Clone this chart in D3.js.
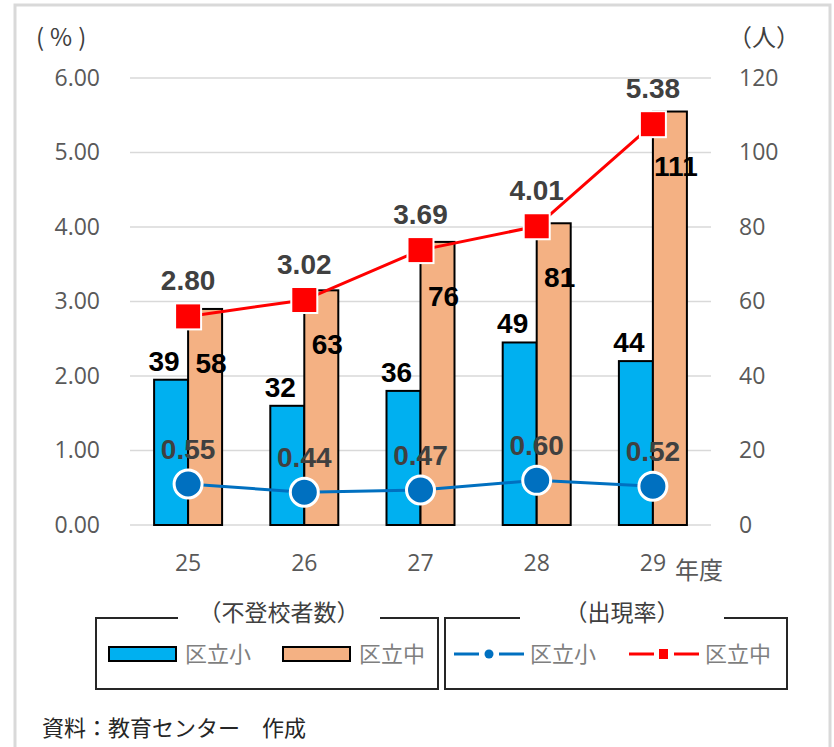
<!DOCTYPE html>
<html>
<head>
<meta charset="utf-8">
<script src="https://cdn.jsdelivr.net/npm/d3@7"></script>
<style>
  body { margin: 0; background: #fff; }
  text { font-family: "Noto Sans CJK JP", "Noto Sans", sans-serif; }
</style>
</head>
<body>
<div id="chart"></div>
<script>
// data
var years = ["25", "26", "27", "28", "29"];
var countSho = [39, 32, 36, 49, 44];
var countChu = [58, 63, 76, 81, 111];
var rateSho = [0.55, 0.44, 0.47, 0.60, 0.52];
var rateChu = [2.80, 3.02, 3.69, 4.01, 5.38];
var rateTicks = [0, 1, 2, 3, 4, 5, 6];
var countTicks = [0, 20, 40, 60, 80, 100, 120];

var W = 834, H = 747;
var margin = {top: 78, right: 123, bottom: 222, left: 130},
  width = W - margin.left - margin.right,
  height = H - margin.top - margin.bottom;

var blue = "#00b0f0", orange = "#f4b183", lineBlue = "#0070c0", red = "#ff0000";
var tickColor = "#595959";

var svg = d3.select("#chart").append("svg")
  .attr("width", W).attr("height", H);

// outer frame
svg.append("rect")
  .attr("x", 15).attr("y", 5)
  .attr("width", 815).attr("height", 760)
  .attr("fill", "none").attr("stroke", "#d9d9d9").attr("stroke-width", 3);

var g = svg.append("g")
  .attr("transform", "translate(" + margin.left + "," + margin.top + ")");

var x = d3.scaleBand().domain(years).range([0, width]).padding(0);
var yL = d3.scaleLinear().domain([0, 6]).range([height, 0]);
var yR = d3.scaleLinear().domain([0, 120]).range([height, 0]);

// gridlines
g.selectAll(".grid").data(rateTicks).enter().append("line")
  .attr("x1", 0).attr("x2", width)
  .attr("y1", d => yL(d)).attr("y2", d => yL(d))
  .attr("stroke", "#d9d9d9").attr("stroke-width", 1.5);

// left axis
var axL = g.append("g")
  .call(d3.axisLeft(yL).tickValues(rateTicks).tickFormat(d3.format(".2f")).tickSize(0).tickPadding(30));
axL.select(".domain").remove();
axL.selectAll("text").attr("font-size", 23).attr("fill", tickColor)
  .style("font-family", "'Open Sans', sans-serif");

// right axis
var axR = g.append("g")
  .attr("transform", "translate(" + width + ",0)")
  .call(d3.axisRight(yR).tickValues(countTicks).tickSize(0).tickPadding(28));
axR.select(".domain").remove();
axR.selectAll("text").attr("font-size", 23).attr("fill", tickColor)
  .style("font-family", "'Open Sans', sans-serif");

// x axis
var axX = g.append("g")
  .attr("transform", "translate(0," + height + ")")
  .call(d3.axisBottom(x).tickSize(0).tickPadding(30));
axX.select(".domain").remove();
axX.selectAll("text").attr("font-size", 23).attr("fill", tickColor)
  .style("font-family", "'Open Sans', sans-serif");
axX.append("text")
  .attr("x", x("29") + x.bandwidth() / 2 + 22).attr("y", 54)
  .attr("text-anchor", "start").attr("font-size", 24).attr("fill", tickColor)
  .text("年度");

// unit labels
svg.append("text").attr("x", 36).attr("y", 46).attr("font-size", 24).attr("fill", "#404040")
  .attr("letter-spacing", 6).text("(%)");
svg.append("text").attr("x", 728).attr("y", 46).attr("font-size", 24).attr("fill", "#404040").text("（人）");

// bars
var bw = 34;
var bars = g.append("g");
bars.selectAll(".sho").data(countSho).enter().append("rect")
  .attr("x", (d, i) => x(years[i]) + x.bandwidth() / 2 - bw)
  .attr("y", d => yR(d))
  .attr("width", bw).attr("height", d => height - yR(d))
  .attr("fill", blue).attr("stroke", "#000").attr("stroke-width", 2);
bars.selectAll(".chu").data(countChu).enter().append("rect")
  .attr("x", (d, i) => x(years[i]) + x.bandwidth() / 2)
  .attr("y", d => yR(d))
  .attr("width", bw).attr("height", d => height - yR(d))
  .attr("fill", orange).attr("stroke", "#000").attr("stroke-width", 2);

// bar labels
g.selectAll(".lsho").data(countSho).enter().append("text")
  .attr("x", (d, i) => x(years[i]) + x.bandwidth() / 2 - bw / 2 - 7)
  .attr("y", d => yR(d) - 9)
  .attr("text-anchor", "middle").attr("font-size", 28).attr("font-weight", "bold")
  .style("font-family", "'Liberation Sans', sans-serif")
  .attr("fill", "#000").text(d => d);
g.selectAll(".lchu").data(countChu).enter().append("text")
  .attr("x", (d, i) => x(years[i]) + x.bandwidth() / 2 + bw / 2 + 6)
  .attr("y", d => yR(d) + 64)
  .attr("text-anchor", "middle").attr("font-size", 28).attr("font-weight", "bold")
  .style("font-family", "'Liberation Sans', sans-serif")
  .attr("fill", "#000").text(d => d);

// lines
var cx = (d, i) => x(years[i]) + x.bandwidth() / 2;
var line = d3.line().x(cx).y(d => yL(d));
g.append("path").datum(rateChu).attr("d", line)
  .attr("fill", "none").attr("stroke", red).attr("stroke-width", 3);
g.append("path").datum(rateSho).attr("d", line)
  .attr("fill", "none").attr("stroke", lineBlue).attr("stroke-width", 3);

g.selectAll(".mchu").data(rateChu).enter().append("rect")
  .attr("x", (d, i) => cx(d, i) - 13).attr("y", d => yL(d) - 13)
  .attr("width", 26).attr("height", 26)
  .attr("fill", red).attr("stroke", "#fff").attr("stroke-width", 2);
g.selectAll(".msho").data(rateSho).enter().append("circle")
  .attr("cx", cx).attr("cy", d => yL(d)).attr("r", 14)
  .attr("fill", lineBlue).attr("stroke", "#fff").attr("stroke-width", 3);

// line labels
g.selectAll(".tchu").data(rateChu).enter().append("text")
  .attr("x", cx).attr("y", d => yL(d) - 26)
  .attr("text-anchor", "middle").attr("font-size", 28).attr("font-weight", "bold")
  .style("font-family", "'Liberation Sans', sans-serif")
  .attr("fill", "#404040").text(d => d.toFixed(2));
g.selectAll(".tsho").data(rateSho).enter().append("text")
  .attr("x", cx).attr("y", d => yL(d) - 25)
  .attr("text-anchor", "middle").attr("font-size", 28).attr("font-weight", "bold")
  .style("font-family", "'Liberation Sans', sans-serif")
  .attr("fill", "#404040").text(d => d.toFixed(2));

// legends
function legendBox(x0, x1, gap0, gap1, title, titleX) {
  var y0 = 618, y1 = 689;
  svg.append("path")
    .attr("d", "M" + gap1 + "," + y0 + "H" + x1 + "V" + y1 + "H" + x0 + "V" + y0 + "H" + gap0)
    .attr("fill", "none").attr("stroke", "#262626").attr("stroke-width", 2);
  svg.append("text").attr("x", titleX).attr("y", 621)
    .attr("text-anchor", "middle").attr("font-size", 23).attr("fill", "#404040")
    .text(title);
}
legendBox(96, 438, 178, 380, "（不登校者数）", 279);
legendBox(445, 787, 520, 724, "（出現率）", 622);

var legendItems = [
  {type: "bar", color: blue, x: 109, label: "区立小"},
  {type: "bar", color: orange, x: 283, label: "区立中"},
  {type: "circle", color: lineBlue, x: 454, label: "区立小"},
  {type: "square", color: red, x: 629, label: "区立中"}
];
legendItems.forEach(function(it) {
  var ly = 654;
  if (it.type === "bar") {
    svg.append("rect").attr("x", it.x).attr("y", ly - 7).attr("width", 67).attr("height", 14)
      .attr("fill", it.color).attr("stroke", "#000").attr("stroke-width", 2);
  } else {
    svg.append("line").attr("x1", it.x).attr("x2", it.x + 70).attr("y1", ly).attr("y2", ly)
      .attr("stroke", it.color).attr("stroke-width", 3);
    svg.append("rect").attr("x", it.x + 25).attr("y", ly - 5).attr("width", 20).attr("height", 10)
      .attr("fill", "#fff");
    if (it.type === "circle") {
      svg.append("circle").attr("cx", it.x + 35).attr("cy", ly).attr("r", 4.5).attr("fill", it.color);
    } else {
      svg.append("rect").attr("x", it.x + 30).attr("y", ly - 5).attr("width", 9).attr("height", 10)
        .attr("fill", it.color);
    }
  }
  svg.append("text").attr("x", it.x + 76).attr("y", ly + 8)
    .attr("font-size", 22).attr("fill", "#7f7f7f").text(it.label);
});

// source note
svg.append("text").attr("x", 42).attr("y", 736)
  .attr("font-size", 22).attr("fill", "#262626").text("資料：教育センター　作成");
</script>
</body>
</html>
